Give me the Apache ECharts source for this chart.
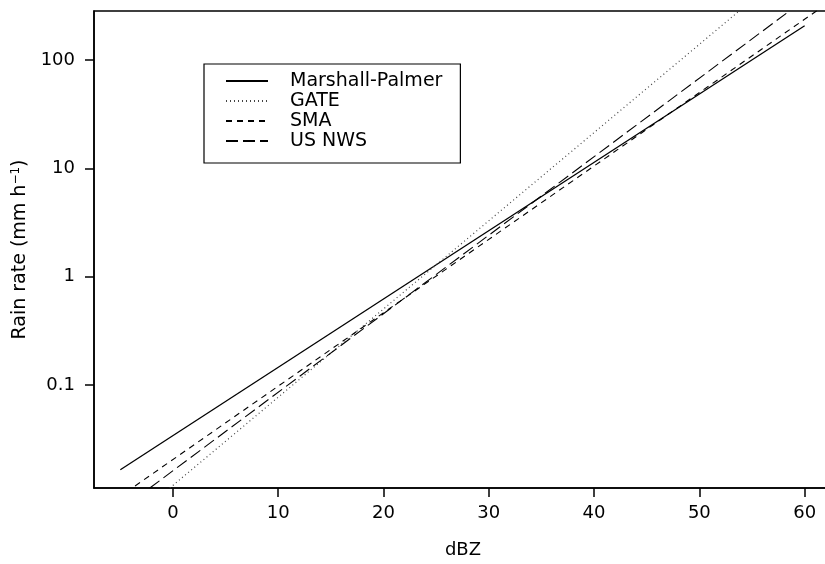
<!DOCTYPE html>
<html>
<head>
<meta charset="utf-8">
<script src="https://cdn.jsdelivr.net/npm/echarts@6/dist/echarts.min.js"></script>
<style>
html,body{margin:0;padding:0;background:#fff;}
#chart{width:825px;height:564px;}
</style>
</head>
<body>
<div id="chart"></div>
<script>
// dBZ / rain-rate endpoints (lines are straight on the log axis)
var seriesNames = ['Marshall-Palmer', 'GATE', 'SMA', 'US NWS'];
var mpDbz = [-5, 60];
var mpRain = [0.0165, 207];
var gateDbz = [-0.3, 53.8];
var gateRain = [0.0112, 284];
var smaDbz = [-3.6, 61.3];
var smaRain = [0.0117, 291];
var nwsDbz = [-2.2, 58.3];
var nwsRain = [0.0112, 271];
var xTicks = [0, 10, 20, 30, 40, 50, 60];
var yTicks = [0.1, 1, 10, 100];
var yTickLabels = ['0.1', '1', '10', '100'];

function pairs(xs, ys) { return xs.map(function (x, i) { return [x, ys[i]]; }); }

var FONT = '"DejaVu Sans", "Liberation Sans", Arial, sans-serif';
var chart = echarts.init(document.getElementById('chart'));

function lineSeries(name, xs, ys, type, color, width) {
  return {
    name: name, type: 'line', data: pairs(xs, ys), symbol: 'none', showSymbol: false, clip: true,
    lineStyle: { color: color, width: width, type: type },
    itemStyle: { color: color },
    emphasis: { disabled: true }, animation: false
  };
}

chart.setOption({
  animation: false,
  backgroundColor: '#fff',
  grid: { left: 94, right: -7, top: 11, bottom: 76, show: true, borderColor: '#000', borderWidth: 1.5,
    backgroundColor: 'transparent', containLabel: false, outerBoundsMode: 'none' },
  legend: {
    left: 204, top: 64, orient: 'vertical',
    data: seriesNames,
    itemWidth: 42, itemHeight: 14, itemGap: 0,
    padding: [7, 18, 12, 21],
    borderColor: '#000', borderWidth: 1.2,
    itemStyle: { opacity: 0, borderWidth: 0 },
    textStyle: { fontFamily: FONT, fontSize: 19, lineHeight: 20, color: '#000', padding: [0, 0, 0, 17] },
    selectedMode: false
  },
  xAxis: {
    type: 'value', min: -7.5, max: 62.6,
    name: 'dBZ', nameLocation: 'middle', nameGap: 53,
    nameTextStyle: { fontFamily: FONT, fontSize: 18, color: '#000' },
    axisLine: { show: true, onZero: false, lineStyle: { color: '#000', width: 1.5 } },
    axisTick: { show: true, length: 9, lineStyle: { color: '#000', width: 1.5 }, customValues: xTicks },
    axisLabel: { fontFamily: FONT, fontSize: 18, color: '#000', margin: 16, customValues: xTicks },
    splitLine: { show: false }
  },
  yAxis: {
    type: 'log', logBase: 10, min: 0.0112, max: 283,
    name: '{n|Rain rate (mm h}{s|−1}{n|)}', nameLocation: 'middle', nameGap: 60, nameRotate: 90,
    nameTextStyle: { fontFamily: FONT, fontSize: 19, color: '#000',
      rich: { n: { fontFamily: FONT, fontSize: 19, color: '#000' }, s: { fontFamily: FONT, fontSize: 12, color: '#000', verticalAlign: 'top', padding: [0, 0, 8, 0] } } },
    axisLine: { show: true, onZero: false, lineStyle: { color: '#000', width: 1.5 } },
    axisTick: { show: true, length: 9, lineStyle: { color: '#000', width: 1.5 }, customValues: yTicks },
    axisLabel: { fontFamily: FONT, fontSize: 18, color: '#000', margin: 19, customValues: yTicks,
      formatter: function (v) {
        for (var i = 0; i < yTicks.length; i++) { if (Math.abs(v - yTicks[i]) / yTicks[i] < 1e-6) return yTickLabels[i]; }
        return '';
      } },
    splitLine: { show: false }
  },
  series: [
    lineSeries('Marshall-Palmer', mpDbz, mpRain, 'solid', '#000', 1.3),
    lineSeries('GATE', gateDbz, gateRain, [1, 3], '#444', 1.2),
    lineSeries('SMA', smaDbz, smaRain, [6, 5], '#000', 1.1),
    lineSeries('US NWS', nwsDbz, nwsRain, [12, 5], '#000', 1.1)
  ]
});
</script>
</body>
</html>
